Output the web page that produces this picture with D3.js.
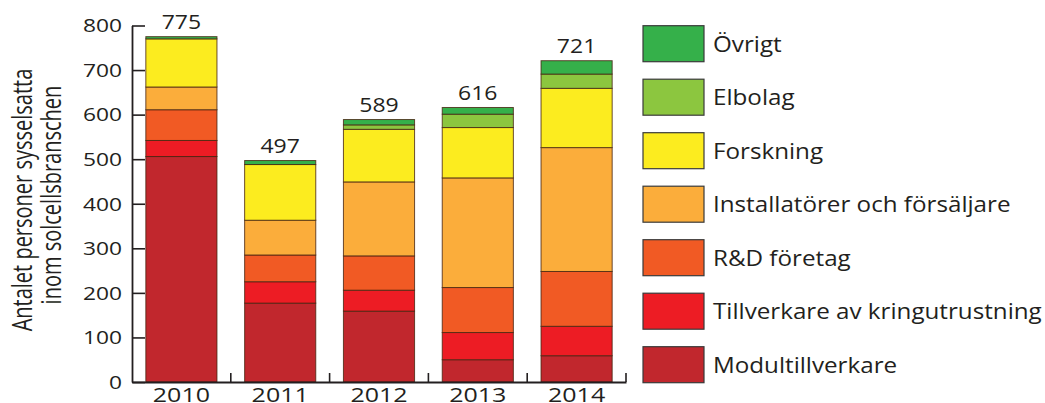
<!DOCTYPE html>
<html>
<head>
<meta charset="utf-8">
<script src="https://cdn.jsdelivr.net/npm/d3@7"></script>
<style>
  body { margin: 0; background: #fff; }
  text { font-family: "Open Sans", sans-serif; fill: #231f20; }
</style>
</head>
<body>
<svg id="chart"></svg>
<script>
// values (persons employed per category)
var years = ["2010", "2011", "2012", "2013", "2014"];
var modul = [506, 177, 159, 50, 59];
var kringutrustning = [36, 48, 47, 61, 66];
var rdForetag = [69, 60, 77, 101, 123];
var installatorer = [51, 78, 166, 246, 278];
var forskning = [108, 125, 118, 113, 133];
var elbolag = [0, 0, 10, 30, 32];
var ovrigt = [5, 9, 12, 15, 30];
var totals = [775, 497, 589, 616, 721];

var seriesNames = ["Modultillverkare", "Tillverkare av kringutrustning", "R&D företag",
  "Installatörer och försäljare", "Forskning", "Elbolag", "Övrigt"];
var seriesValues = [modul, kringutrustning, rdForetag, installatorer, forskning, elbolag, ovrigt];
var seriesColors = ["#c1272d", "#ed1c24", "#f15a24", "#fbad3b", "#fcec1f", "#8cc63f", "#35b04a"];
var yTicks = [0, 100, 200, 300, 400, 500, 600, 700, 800];
var yTitle = ["Antalet personer sysselsatta", "inom solcellsbranschen"];

var W = 1045, H = 403;
var plot = {left: 132, right: 626, top: 25.5, bottom: 382};

var svg = d3.select("#chart").attr("width", W).attr("height", H);

var rows = years.map(function (yr, i) {
  var r = {year: yr};
  seriesNames.forEach(function (n, k) { r[n] = seriesValues[k][i]; });
  return r;
});

var x = d3.scaleBand()
  .domain(years)
  .range([plot.left, plot.right])
  .paddingInner(0.28)
  .paddingOuter(0.14);

var y = d3.scaleLinear()
  .domain([0, 800])
  .range([plot.bottom, plot.top]);

var stacked = d3.stack().keys(seriesNames)(rows);

// bars
svg.append("g").selectAll("g")
  .data(stacked)
  .enter().append("g")
    .attr("fill", function (d, i) { return seriesColors[i]; })
  .selectAll("rect")
  .data(function (d) { return d.filter(function (s) { return s[1] - s[0] > 0; }); })
  .enter().append("rect")
    .attr("x", function (d) { return x(d.data.year); })
    .attr("width", x.bandwidth())
    .attr("y", function (d) { return y(d[1]); })
    .attr("height", function (d) { return y(d[0]) - y(d[1]); })
    .attr("stroke", "rgba(70,35,15,0.8)")
    .attr("stroke-width", 1);

// totals above bars
svg.append("g").selectAll("text")
  .data(years)
  .enter().append("text")
    .attr("text-anchor", "middle")
    .style("font-size", "20px")
    .attr("transform", function (d, i) {
      return "translate(" + (x(d) + x.bandwidth() / 2) + "," + (y(totals[i]) - 7.5) + ") scale(1.15,1)";
    })
    .text(function (d, i) { return totals[i]; });

// y axis, ticks pointing inward
var yAxis = svg.append("g")
  .attr("transform", "translate(" + plot.left + ",0)")
  .call(d3.axisLeft(y).tickValues(yTicks).tickSize(-13).tickSizeOuter(0).tickPadding(10));
yAxis.select(".domain").attr("stroke", "#231f20").attr("stroke-width", 1.8);
yAxis.selectAll(".tick line").attr("stroke", "#231f20").attr("stroke-width", 1.6);
yAxis.selectAll(".tick text")
  .attr("x", null).attr("dy", null)
  .attr("transform", "translate(-10,6.3) scale(1.28,1)")
  .style("font-size", "17.8px")
  .style("font-family", "'Open Sans', sans-serif")
  .attr("fill", "#231f20");

// x axis with labels and small upward ticks between bars
var xAxis = svg.append("g")
  .attr("transform", "translate(0," + plot.bottom + ")")
  .call(d3.axisBottom(x).tickSize(0).tickSizeOuter(0));
xAxis.select(".domain").attr("stroke", "#231f20").attr("stroke-width", 1.8);
xAxis.selectAll(".tick text")
  .attr("y", null).attr("dy", null)
  .attr("transform", "translate(0,19.6) scale(1.22,1)")
  .style("font-size", "20.5px")
  .style("font-family", "'Open Sans', sans-serif")
  .attr("fill", "#231f20");
xAxis.selectAll(".sep")
  .data(years)
  .enter().append("line")
    .attr("class", "sep")
    .attr("x1", function (d) { return x(d) + x.bandwidth() + x.step() * x.paddingInner() / 2; })
    .attr("x2", function (d) { return x(d) + x.bandwidth() + x.step() * x.paddingInner() / 2; })
    .attr("y1", 0)
    .attr("y2", -9)
    .attr("stroke", "#231f20")
    .attr("stroke-width", 1.6);

// y title, two lines
svg.append("g").selectAll("text")
  .data(yTitle)
  .enter().append("text")
    .attr("text-anchor", "middle")
    .style("font-size", "20px")
    .attr("transform", function (d, i) {
      return "translate(" + (32 + i * 29) + "," + (200 - i * 5) + ") scale(1.4,1) rotate(-90)";
    })
    .text(function (d) { return d; });

// legend, top item is the last series
var legendOrder = seriesNames.map(function (n, i) { return i; }).reverse();
var legend = svg.append("g").attr("transform", "translate(643,25.7)");
var item = legend.selectAll("g")
  .data(legendOrder)
  .enter().append("g")
    .attr("transform", function (d, j) { return "translate(0," + (j * 53.5) + ")"; });
item.append("rect")
  .attr("width", 61)
  .attr("height", 36)
  .attr("fill", function (d) { return seriesColors[d]; })
  .attr("stroke", "#3a3a3a")
  .attr("stroke-width", 1.2);
item.append("text")
  .style("font-size", "22px")
  .attr("transform", "translate(70,26) scale(1.1,1)")
  .text(function (d) { return seriesNames[d]; });
</script>
</body>
</html>
